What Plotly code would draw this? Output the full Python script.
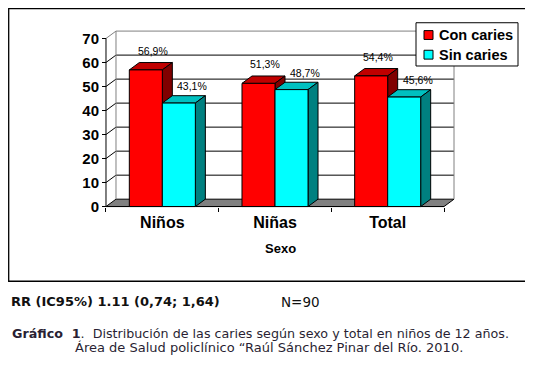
import plotly.graph_objects as go

# ---------------- data ----------------
categories = ["Niños", "Niñas", "Total"]
series_names = ["Con caries", "Sin caries"]
con_caries = [56.9, 51.3, 54.4]
sin_caries = [43.1, 48.7, 45.6]
y_ticks = [0, 10, 20, 30, 40, 50, 60, 70]
rr_text = "RR (IC95%) 1.11 (0,74; 1,64)"
n_text = "N=90"
caption_bold = "Gráfico\u00a0\u00a01"
caption_1 = ".\u00a0\u00a0Distribución de las caries según sexo y total en niños de 12 años."
caption_2 = "Área de Salud policlínico “Raúl Sánchez Pinar del Río. 2010."

# ---------------- geometry / style (page pixel coordinates) ----------------
OX, OY = 8, 8                 # default page body margin
W, H = 533 - OX, 367 - 2 * OY # figure size so the page is exactly 533x367
X0PX, XPU = 106.0, 112.67     # page pixel of x=0, pixels per category
Y0PX, YPU = 210.0, 2.443      # page pixel of y=0, pixels per unit
DX_PX, DY_PX = 10.0, 7.5      # depth offset in pixels
ddx = DX_PX / XPU
ddy = DY_PX / YPU
XR = [-0.05, 3.15]
YR = [-1.0, 74.5]
ncat = len(categories)
YMAX = y_ticks[-1]
bar_w = 0.293

front_cols = ["#FF0000", "#00FFFF"]
top_cols = ["#C00000", "#00C0C0"]
side_cols = ["#800000", "#008080"]

def px(x):
    return (x - OX) / W

def py(y):
    return 1 - (y - OY) / H

x_dom = [px(X0PX + XR[0] * XPU), px(X0PX + XR[1] * XPU)]
y_dom = [py(Y0PX - YR[0] * YPU), py(Y0PX - YR[1] * YPU)]

centers = [i + 0.5 for i in range(ncat)]
series = [con_caries, sin_caries]
offsets = [-bar_w, 0.0]

fig = go.Figure()
for s, (name, vals) in enumerate(zip(series_names, series)):
    fig.add_trace(go.Bar(
        x=centers, y=vals, name=name, width=bar_w, offset=offsets[s],
        marker=dict(color=front_cols[s], line=dict(color="black", width=1)),
        showlegend=False, hoverinfo="skip",
    ))

shapes = []
def line(x0, y0, x1, y1, color="black", width=1):
    shapes.append(dict(type="line", xref="x", yref="y", x0=x0, y0=y0, x1=x1, y1=y1,
                       line=dict(color=color, width=width), layer="below"))

def poly(pts, fill, lc="black", lw=1):
    d = "M " + " L ".join(f"{a},{b}" for a, b in pts) + " Z"
    shapes.append(dict(type="path", xref="x", yref="y", path=d, fillcolor=fill,
                       line=dict(color=lc, width=lw), layer="below"))

# floor
poly([(0, 0), (ncat, 0), (ncat + ddx, ddy), (ddx, ddy)], "#808080", "black", 1)
# back wall + left wall gridlines
for v in y_ticks[1:]:
    c = "#808080" if v == YMAX else "black"
    line(ddx, v + ddy, ncat + ddx, v + ddy, c)
    line(0, v, ddx, v + ddy, c)
line(ddx, ddy, ddx, YMAX + ddy, "#808080")
line(ncat + ddx, ddy, ncat + ddx, YMAX + ddy, "#808080")
# axes lines
line(0, 0, 0, YMAX)
line(0, 0, ncat, 0)

# 3D bar tops and sides
for i, c in enumerate(centers):
    for s, vals in enumerate(series):
        v = vals[i]
        x0 = c + offsets[s]
        x1 = x0 + bar_w
        poly([(x0, v), (x1, v), (x1 + ddx, v + ddy), (x0 + ddx, v + ddy)], top_cols[s])
        poly([(x1, 0), (x1, v), (x1 + ddx, v + ddy), (x1 + ddx, ddy)], side_cols[s])

# chart border (paper)
shapes.append(dict(type="rect", xref="paper", yref="paper", x0=px(8.7), x1=px(526),
                   y0=py(286), y1=py(8.7), line=dict(color="black", width=1.3), layer="below"))

# legend box
shapes.append(dict(type="rect", xref="paper", yref="paper", x0=px(416), x1=px(518),
                   y0=py(67), y1=py(23), fillcolor="white",
                   line=dict(color="black", width=1), layer="above"))
leg_y = [35.5, 55.5]
for s in range(2):
    shapes.append(dict(type="rect", xref="paper", yref="paper", x0=px(424), x1=px(433),
                       y0=py(leg_y[s] + 4.5), y1=py(leg_y[s] - 4.5), fillcolor=front_cols[s],
                       line=dict(color="black", width=1), layer="above"))

annotations = []
for s in range(2):
    annotations.append(dict(xref="paper", yref="paper", x=px(437), y=py(leg_y[s]),
                            text=f"<b>{series_names[s]}</b>", showarrow=False,
                            xanchor="left", yanchor="middle",
                            font=dict(family="Liberation Sans, Arial", size=14.5, color="black")))

# data labels
lab_dx = [0.06, 0.12]
lab_dy = [19, 17]
for i, c in enumerate(centers):
    for s, vals in enumerate(series):
        v = vals[i]
        annotations.append(dict(xref="x", yref="y", x=c + offsets[s] + bar_w / 2 + lab_dx[s], y=v,
                                yshift=lab_dy[s], text=f"{v:.1f}%".replace(".", ","),
                                showarrow=False, xanchor="center", yanchor="middle",
                                font=dict(family="Liberation Sans, Arial", size=10.5, color="black")))

# bottom texts
vfont = "DejaVu Sans, Verdana"
annotations.append(dict(xref="paper", yref="paper", x=px(9), y=py(307), text=f"<b>{rr_text}</b>",
                        showarrow=False, xanchor="left", yanchor="middle",
                        font=dict(family=vfont, size=13, color="#111111")))
annotations.append(dict(xref="paper", yref="paper", x=px(279), y=py(307), text=n_text,
                        showarrow=False, xanchor="left", yanchor="middle",
                        font=dict(family=vfont, size=13.5, color="#111111")))
annotations.append(dict(xref="paper", yref="paper", x=px(260), y=py(339),
                        text=f"<b>{caption_bold}</b>{caption_1}",
                        showarrow=False, xanchor="center", yanchor="middle",
                        font=dict(family=vfont, size=12.7, color="#2a1f33")))
annotations.append(dict(xref="paper", yref="paper", x=px(268.5), y=py(353), text=caption_2,
                        showarrow=False, xanchor="center", yanchor="middle",
                        font=dict(family=vfont, size=13, color="#2a1f33")))

fig.update_layout(
    width=W, height=H, margin=dict(l=0, r=0, t=0, b=0),
    paper_bgcolor="white", plot_bgcolor="rgba(0,0,0,0)",
    barmode="overlay", showlegend=False,
    shapes=shapes, annotations=annotations,
    xaxis=dict(domain=x_dom, range=XR, anchor="free", position=py(Y0PX),
               tickvals=centers, ticktext=categories, ticks="",
               minor=dict(tick0=0, dtick=1, ticks="outside", ticklen=4, tickcolor="black", showgrid=False),
               showgrid=False, zeroline=False, showline=False, ticklabelstandoff=4,
               tickfont=dict(family="Liberation Sans, Arial", size=16, color="black", weight="bold"),
               title=dict(text="<b>Sexo</b>", standoff=14,
                          font=dict(family="Liberation Sans, Arial", size=13, color="black"))),
    yaxis=dict(domain=y_dom, range=YR, anchor="free", position=px(X0PX),
               tickvals=y_ticks, ticks="outside", ticklen=4, tickcolor="black",
               showgrid=False, zeroline=False, showline=False,
               tickfont=dict(family="Liberation Sans, Arial", size=15, color="black", weight="bold")),
)

fig.write_html("out.html", config={"displayModeBar": False})
